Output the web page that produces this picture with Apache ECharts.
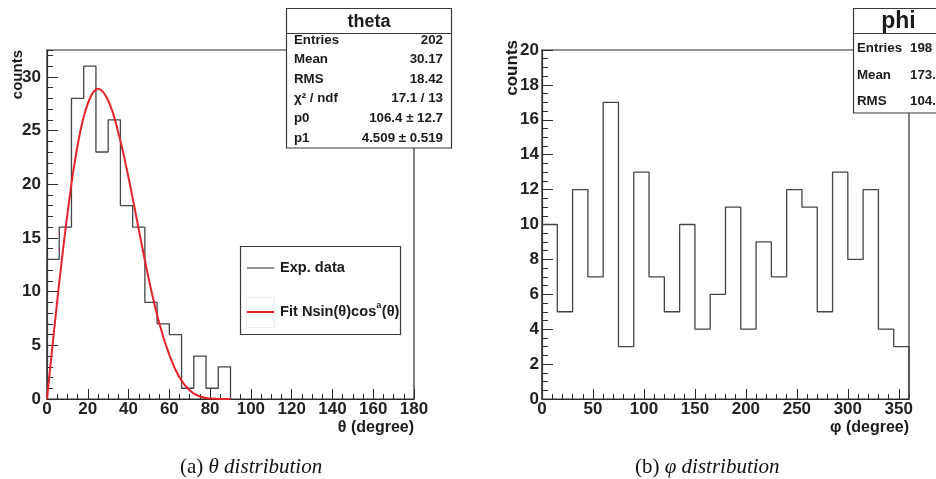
<!DOCTYPE html>
<html>
<head>
<meta charset="utf-8">
<script src="https://cdn.jsdelivr.net/npm/echarts@6/dist/echarts.min.js"></script>
<style>
  html, body { margin: 0; padding: 0; background: #fff; }
  #chart { width: 936px; height: 479px; }
</style>
</head>
<body>
<div id="chart"></div>
<script>
// θ histogram: 6° bins starting at 0°
const thetaBinWidth = 6;
const thetaCounts = [13, 16, 28, 31, 23, 26, 18, 16, 9, 7, 6, 1, 4, 1, 3];

// fitted curve N·sin(θ)·cos^a(θ), sampled every 5°
const fitTheta = [0, 5, 10, 15, 20, 25, 30, 35, 40, 45, 50, 55, 60, 65, 70, 75, 80, 85, 90];
const fitValues = [0, 9.1, 17.2, 23.6, 27.5, 28.9, 27.8, 24.8, 20.6, 15.8, 11.1, 7.1, 4.1, 2.0, 0.8, 0.23, 0.04, 0, 0];

// φ histogram: 15° bins starting at 0°
const phiBinWidth = 15;
const phiCounts = [10, 5, 12, 7, 17, 3, 13, 7, 5, 10, 4, 6, 11, 4, 9, 7, 12, 11, 5, 13, 8, 12, 4, 3];

// statistics boxes
const thetaStats = [
  ['Entries', '202'], ['Mean', '30.17'], ['RMS', '18.42'],
  ['χ² / ndf', '17.1 / 13'], ['p0', '106.4 ± 12.7'], ['p1', '4.509 ± 0.519']
];
const phiStats = [['Entries', '198'], ['Mean', '173.7'], ['RMS', '104.7']];

const expName = 'Exp. data';
// fit label pieces: base text, superscript, tail
const fitLabel = ['Fit Nsin(θ)cos', 'a', '(θ)'];

const SANS = "'Liberation Sans', Arial, Helvetica, sans-serif";
const SERIF = "'Liberation Serif', 'Times New Roman', serif";
const INK = '#2a2a2a';
const RED = '#e3242b';

// outline of a histogram as a stepped path along the bin edges
function histOutline(counts, width) {
  const pts = [[0, 0]];
  counts.forEach((c, i) => pts.push([i * width, c]));
  const end = counts.length * width;
  pts.push([end, counts[counts.length - 1]]);
  pts.push([end, 0]);
  return pts;
}

const fitPoints = fitTheta.map((t, i) => [t, fitValues[i]]);

// text width helper for laying out the superscript in the legend
const measureCtx = document.createElement('canvas').getContext('2d');
function textWidth(text, font) {
  measureCtx.font = font;
  return measureCtx.measureText(text).width;
}

function majorX(grid, max, interval) {
  return {
    type: 'value', gridIndex: grid, min: 0, max: max, interval: interval, position: 'bottom',
    axisLine: { show: true, onZero: false, lineStyle: { color: INK, width: 1.2 } },
    axisTick: { show: true, inside: true, length: 10, lineStyle: { color: INK } },
    axisLabel: { show: true, margin: 2, fontFamily: SANS, fontWeight: 'bold', fontSize: 17, color: '#222', showMaxLabel: max % interval === 0 },
    splitLine: { show: false }
  };
}
function minorX(grid, max, interval) {
  return {
    type: 'value', gridIndex: grid, min: 0, max: max, interval: interval, position: 'bottom',
    axisLine: { show: false, onZero: false },
    axisTick: { show: true, inside: true, length: 5, lineStyle: { color: INK } },
    axisLabel: { show: false }, splitLine: { show: false }
  };
}
function majorY(grid, max, interval, margin) {
  return {
    type: 'value', gridIndex: grid, min: 0, max: max, interval: interval, position: 'left',
    axisLine: { show: true, onZero: false, lineStyle: { color: INK, width: 1.2 } },
    axisTick: { show: true, inside: true, length: 11, lineStyle: { color: INK } },
    axisLabel: { show: true, margin: margin, fontFamily: SANS, fontWeight: 'bold', fontSize: 17, color: '#222', showMaxLabel: max % interval === 0 },
    splitLine: { show: false }
  };
}
function minorY(grid, max, interval) {
  return {
    type: 'value', gridIndex: grid, min: 0, max: max, interval: interval, position: 'left',
    axisLine: { show: false, onZero: false },
    axisTick: { show: true, inside: true, length: 6, lineStyle: { color: INK } },
    axisLabel: { show: false }, splitLine: { show: false }
  };
}

function statsBox(x, y, w, h, titleH, title, titleSize, rows, rowYs, keyX, valX, valAlign, fontSize) {
  const els = [
    { type: 'rect', z: 20, shape: { x: x, y: y, width: w, height: h },
      style: { fill: '#fff', stroke: '#3a3a3a', lineWidth: 1.2 } },
    { type: 'line', z: 21, shape: { x1: x, y1: y + titleH, x2: x + w, y2: y + titleH },
      style: { stroke: '#3a3a3a', lineWidth: 1.2 } },
    { type: 'text', z: 21, x: x + w / 2, y: y + titleH / 2 + 1,
      style: { text: title, fill: '#1a1a1a', font: 'bold ' + titleSize + 'px ' + SANS, align: 'center', verticalAlign: 'middle' } }
  ];
  rows.forEach((r, i) => {
    els.push({ type: 'text', z: 21, x: keyX, y: rowYs[i],
      style: { text: r[0], fill: '#1a1a1a', font: 'bold ' + fontSize + 'px ' + SANS, align: 'left', verticalAlign: 'middle' } });
    els.push({ type: 'text', z: 21, x: valX, y: rowYs[i],
      style: { text: r[1], fill: '#1a1a1a', font: 'bold ' + fontSize + 'px ' + SANS, align: valAlign, verticalAlign: 'middle' } });
  });
  return els;
}

const legendFont = 'bold 14.6px ' + SANS;
const supFont = 'bold 9px ' + SANS;
const fitX0 = 280;
const fitX1 = fitX0 + textWidth(fitLabel[0], legendFont);
const fitX2 = fitX1 + textWidth(fitLabel[1], supFont) + 0.5;

const graphics = [].concat(
  statsBox(286.5, 8.5, 165, 139.5, 25, 'theta', 18, thetaStats, [40, 59.5, 79, 98.5, 118.5, 138], 294, 443, 'right', 13.3),
  statsBox(853.5, 8.5, 90, 104.5, 25, 'phi', 23, phiStats, [48, 75, 101], 857, 910, 'left', 13.3),
  [
    // legend frame and entries
    { type: 'rect', z: 3, shape: { x: 240.5, y: 246.5, width: 160, height: 88 },
      style: { fill: '#fff', stroke: '#3a3a3a', lineWidth: 1.2 } },
    { type: 'rect', z: 4, shape: { x: 246.5, y: 297.5, width: 28, height: 30 },
      style: { fill: 'none', stroke: '#ececec', lineWidth: 1 } },
    { type: 'line', z: 4, shape: { x1: 247, y1: 268, x2: 274, y2: 268 },
      style: { stroke: '#555', lineWidth: 1.3 } },
    { type: 'text', z: 4, x: 280, y: 268,
      style: { text: expName, fill: '#1a1a1a', font: legendFont, align: 'left', verticalAlign: 'middle' } },
    { type: 'line', z: 4, shape: { x1: 247, y1: 312, x2: 274, y2: 312 },
      style: { stroke: RED, lineWidth: 2 } },
    { type: 'text', z: 4, x: fitX0, y: 312,
      style: { text: fitLabel[0], fill: '#1a1a1a', font: legendFont, align: 'left', verticalAlign: 'middle' } },
    { type: 'text', z: 4, x: fitX1, y: 306,
      style: { text: fitLabel[1], fill: '#1a1a1a', font: supFont, align: 'left', verticalAlign: 'middle' } },
    { type: 'text', z: 4, x: fitX2, y: 312,
      style: { text: fitLabel[2], fill: '#1a1a1a', font: legendFont, align: 'left', verticalAlign: 'middle' } },
    // axis titles
    { type: 'text', x: 18, y: 50, rotation: Math.PI / 2,
      style: { text: 'counts', fill: '#1a1a1a', font: 'bold 15px ' + SANS, align: 'right', verticalAlign: 'middle' } },
    { type: 'text', x: 414, y: 428,
      style: { text: 'θ (degree)', fill: '#1a1a1a', font: 'bold 16px ' + SANS, align: 'right', verticalAlign: 'middle' } },
    { type: 'text', x: 512, y: 40, rotation: Math.PI / 2,
      style: { text: 'counts', fill: '#1a1a1a', font: 'bold 17px ' + SANS, align: 'right', verticalAlign: 'middle' } },
    { type: 'text', x: 909, y: 428,
      style: { text: 'φ (degree)', fill: '#1a1a1a', font: 'bold 16px ' + SANS, align: 'right', verticalAlign: 'middle' } },
    // captions
    { type: 'text', x: 180, y: 467,
      style: { text: '(a) {i|θ distribution}', fill: '#111', font: '21px ' + SERIF, verticalAlign: 'middle',
        rich: { i: { fontStyle: 'italic', fontSize: 21, fontFamily: SERIF, fill: '#111' } } } },
    { type: 'text', x: 635, y: 467,
      style: { text: '(b) {i|φ distribution}', fill: '#111', font: '21px ' + SERIF, verticalAlign: 'middle',
        rich: { i: { fontStyle: 'italic', fontSize: 21, fontFamily: SERIF, fill: '#111' } } } }
  ]
);

const chart = echarts.init(document.getElementById('chart'), null, { renderer: 'canvas' });
chart.setOption({
  backgroundColor: '#fff',
  animation: false,
  grid: [
    { left: 47, top: 50, width: 367, height: 349, show: true, borderColor: INK, borderWidth: 1.2, backgroundColor: 'transparent' },
    { left: 542, top: 50, width: 367, height: 349, show: true, borderColor: INK, borderWidth: 1.2, backgroundColor: 'transparent' }
  ],
  xAxis: [
    majorX(0, 180, 20), minorX(0, 180, 5),
    majorX(1, 360, 50), minorX(1, 360, 10)
  ],
  yAxis: [
    majorY(0, 32.5, 5, 6), minorY(0, 32.5, 1),
    majorY(1, 20, 2, 3), minorY(1, 20, 0.5)
  ],
  series: [
    { name: expName, type: 'line', xAxisIndex: 0, yAxisIndex: 0, step: 'end', symbol: 'none',
      data: histOutline(thetaCounts, thetaBinWidth), lineStyle: { color: '#444', width: 1.3 }, z: 2 },
    { name: fitLabel.join(''), type: 'line', xAxisIndex: 0, yAxisIndex: 0, smooth: 0.4, symbol: 'none',
      data: fitPoints, lineStyle: { color: RED, width: 2 }, z: 3 },
    { name: 'phi', type: 'line', xAxisIndex: 2, yAxisIndex: 2, step: 'end', symbol: 'none',
      data: histOutline(phiCounts, phiBinWidth), lineStyle: { color: '#444', width: 1.3 }, z: 2 }
  ],
  graphic: graphics
});
</script>
</body>
</html>
